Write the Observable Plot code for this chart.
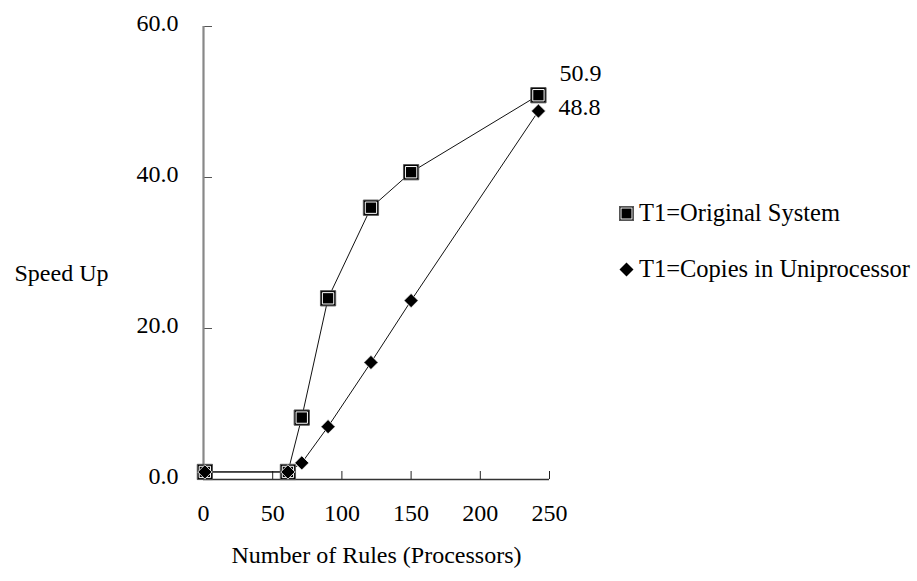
<!DOCTYPE html>
<html>
<head>
<meta charset="utf-8">
<script src="https://cdn.jsdelivr.net/npm/d3@7"></script>
<script src="https://cdn.jsdelivr.net/npm/@observablehq/plot@0.6"></script>
<style>
  html, body { margin: 0; padding: 0; background: #fff; }
  #wrap { position: relative; width: 917px; height: 581px; font-family: "Liberation Serif", "DejaVu Serif", serif; }
  .leg { position: absolute; left: 619px; font-size: 24.5px; color: #000; display: flex; align-items: center; white-space: nowrap; }
  .leg svg { margin-right: 5px; }
</style>
</head>
<body>
<div id="wrap"></div>
<script>
const processors = [1, 61, 71, 90, 121, 150, 242];
const originalSystem = [1.0, 1.0, 8.2, 24.0, 36.0, 40.7, 50.9];
const copiesUniprocessor = [1.0, 1.0, 2.2, 7.0, 15.5, 23.7, 48.8];
const xTicks = [0, 50, 100, 150, 200, 250];
const yTicks = [0, 20, 40, 60];
const seriesNames = ["T1=Original System", "T1=Copies in Uniprocessor"];
const endLabels = ["50.9", "48.8"];

const orig = processors.map((x, i) => ({x, y: originalSystem[i]}));
const copies = processors.map((x, i) => ({x, y: copiesUniprocessor[i]}));
const last = processors.length - 1;

const fs = 24;
const chart = Plot.plot({
  width: 917,
  height: 581,
  marginLeft: 203,
  marginRight: 368,
  marginTop: 26,
  marginBottom: 102,
  style: {fontFamily: "Liberation Serif, DejaVu Serif, serif", fontSize: fs + "px", color: "#000", background: "#fff", overflow: "visible"},
  x: {domain: [0, 250], ticks: xTicks},
  y: {domain: [0, 60], ticks: yTicks},
  marks: [
    Plot.axisY({ticks: yTicks, tickSize: 0, tickPadding: 25, tickFormat: d3.format(".1f"), label: null, fontSize: fs, dy: -3}),
    Plot.axisY({ticks: yTicks, tickSize: -9, text: null, label: null, stroke: "#555"}),
    Plot.axisX({ticks: xTicks, tickSize: 0, tickPadding: 24, label: null, fontSize: fs}),
    Plot.axisX({ticks: xTicks, tickSize: -8, text: null, label: null, stroke: "#222"}),
    Plot.ruleY([0], {stroke: "#333", strokeWidth: 1.3}),
    Plot.ruleX([0], {stroke: "#888", strokeWidth: 2.2}),
    Plot.line(orig, {x: "x", y: "y", stroke: "#111", strokeWidth: 1}),
    Plot.line(copies, {x: "x", y: "y", stroke: "#111", strokeWidth: 1}),
    Plot.dot(orig, {x: "x", y: "y", symbol: "square", r: 8.6, fill: "#000", stroke: "#555", strokeWidth: 1}),
    Plot.dot(orig, {x: "x", y: "y", symbol: "square", r: 6.4, fill: "#000", stroke: "#fff", strokeWidth: 1}),
    Plot.dot(copies, {x: "x", y: "y", symbol: "diamond2", r: 6.4, fill: "#000", stroke: "#fff", strokeWidth: 0.8}),
    Plot.text([orig[last]], {x: "x", y: "y", text: () => endLabels[0], dx: 21, dy: -22, textAnchor: "start", fontSize: fs, fill: "#000"}),
    Plot.text([copies[last]], {x: "x", y: "y", text: () => endLabels[1], dx: 20, dy: -4, textAnchor: "start", fontSize: fs, fill: "#000"}),
    Plot.text(["Speed Up"], {frameAnchor: "left", dx: -142, dy: 20, textAnchor: "middle", fontSize: fs, fill: "#000"}),
    Plot.text(["Number of Rules (Processors)"], {frameAnchor: "bottom", dy: 83, textAnchor: "middle", fontSize: fs, fill: "#000"})
  ]
});

const wrap = document.getElementById("wrap");
wrap.appendChild(chart);

function legendItem(top, name, kind) {
  const div = document.createElement("div");
  div.className = "leg";
  div.style.top = top + "px";
  const sym = kind === "square"
    ? '<svg width="15" height="15"><rect x="0.5" y="0.5" width="14" height="14" fill="#000" stroke="#555"/><rect x="2" y="2" width="11" height="11" fill="#000" stroke="#fff" stroke-width="1"/></svg>'
    : '<svg width="15" height="15"><path d="M7.5,0.5L14.5,7.5L7.5,14.5L0.5,7.5Z" fill="#000"/></svg>';
  div.innerHTML = sym + "<span>" + name + "</span>";
  wrap.appendChild(div);
}
legendItem(199, seriesNames[0], "square");
legendItem(255, seriesNames[1], "diamond");
</script>
</body>
</html>
